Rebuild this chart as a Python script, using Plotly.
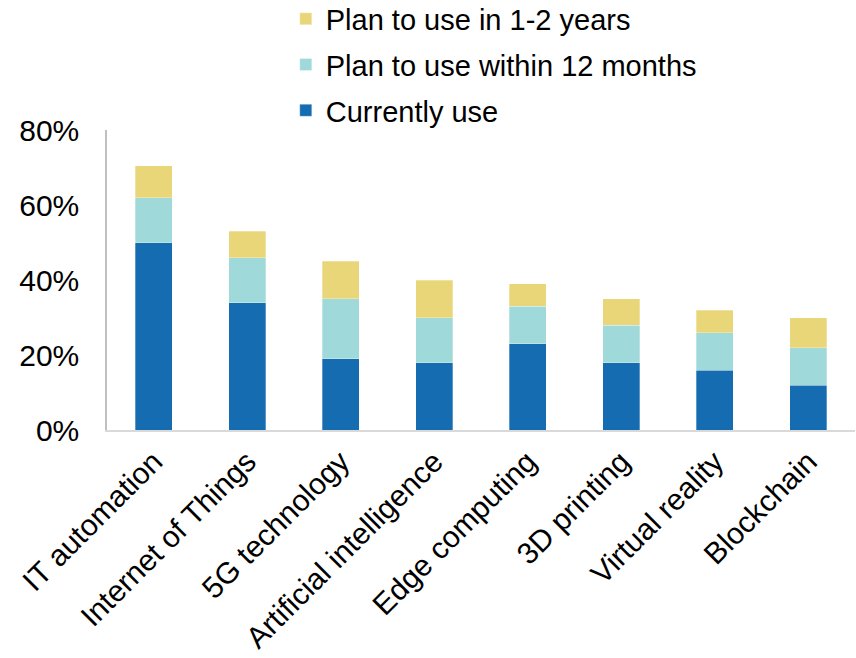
import plotly.graph_objects as go

categories = ["IT automation", "Internet of Things", "5G technology", "Artificial intelligence",
              "Edge computing", "3D printing", "Virtual reality", "Blockchain"]
currently_use = [0.50, 0.34, 0.19, 0.18, 0.23, 0.18, 0.16, 0.12]
within_12_months = [0.12, 0.12, 0.16, 0.12, 0.10, 0.10, 0.10, 0.10]
in_1_2_years = [0.085, 0.07, 0.10, 0.10, 0.06, 0.07, 0.06, 0.08]

series = [
    ("Currently use", currently_use, "#156CB1"),
    ("Plan to use within 12 months", within_12_months, "#A0D9DA"),
    ("Plan to use in 1-2 years", in_1_2_years, "#E8D679"),
]

fig = go.Figure()
for i, (name, vals, color) in enumerate(series):
    fig.add_trace(go.Bar(
        x=categories, y=vals, name=name, legendgroup=f"g{i}", legendrank=10 - i,
        marker=dict(color=color, line=dict(width=0.6, color="rgba(255,255,255,0.5)")),
    ))

fig.update_layout(
    barmode="stack",
    bargap=0.6,
    width=856, height=658,
    margin=dict(l=107, r=1, t=130, b=228, autoexpand=False),
    paper_bgcolor="white", plot_bgcolor="white",
    font=dict(family="Liberation Sans, Arial", size=30, color="black"),
    legend=dict(
        x=0.239, y=1.455, xanchor="left", yanchor="top",
        traceorder="grouped", tracegroupgap=5,
        font=dict(size=29), itemwidth=30,
        bgcolor="rgba(0,0,0,0)",
    ),
    showlegend=True,
)
fig.update_yaxes(
    range=[0, 0.8], dtick=0.2, tickformat=".0%",
    showgrid=False, zeroline=False,
    showline=True, linecolor="#BFBFBF", linewidth=1.5,
    ticks="", ticklabelstandoff=20,
)
fig.update_xaxes(
    tickangle=-45, showgrid=False,
    showline=True, linecolor="#D9D9D9", linewidth=2,
    ticks="",
)

fig.write_html("out.html")
